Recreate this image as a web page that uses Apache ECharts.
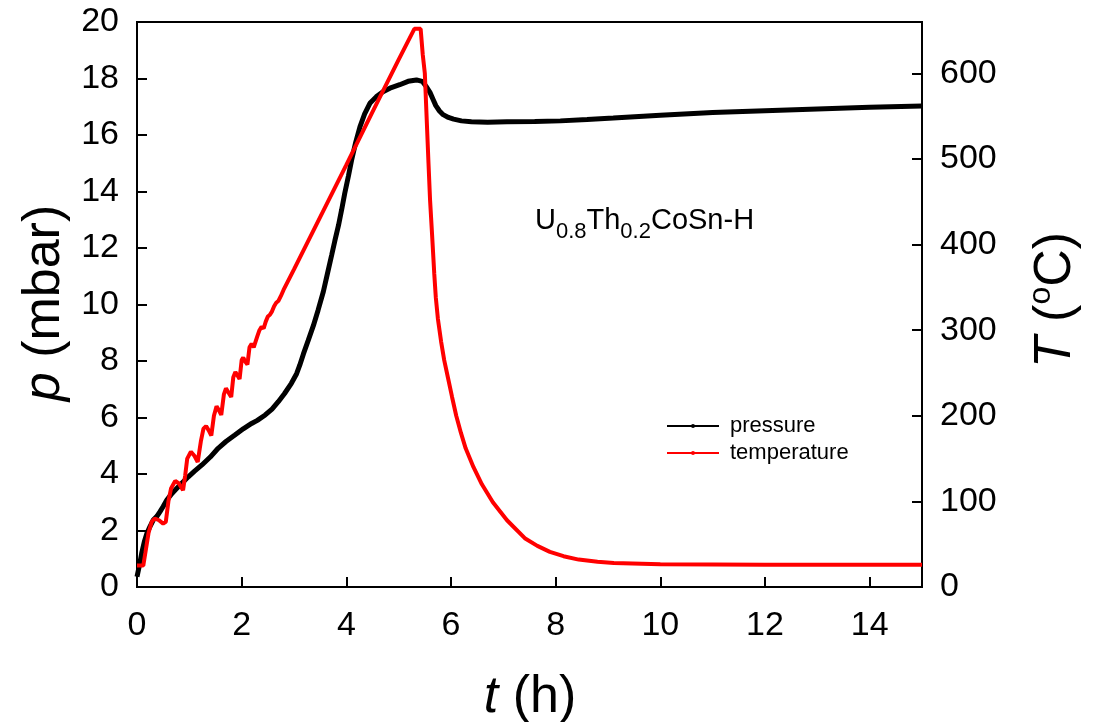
<!DOCTYPE html>
<html>
<head>
<meta charset="utf-8">
<script src="https://cdn.jsdelivr.net/npm/echarts@6/dist/echarts.min.js"></script>
<style>
    html, body { margin: 0; padding: 0; background: #fff; }
    #chart { width: 1093px; height: 722px; }
</style>
</head>
<body>
<div id="chart"></div>
<script>
// pressure (mbar) vs time (h)
var pressureTime = [0, 0.05, 0.09, 0.14, 0.19, 0.25, 0.31, 0.38, 0.44, 0.5, 0.57, 0.65, 0.73, 0.85, 0.98,
    1.1, 1.24, 1.4, 1.55, 1.7, 1.87, 2.03, 2.19, 2.3, 2.45, 2.58, 2.7, 2.82, 2.95, 3.05, 3.11, 3.18,
    3.27, 3.37, 3.46, 3.56, 3.64, 3.72, 3.78, 3.85, 3.91, 3.97, 4.04, 4.1, 4.18, 4.26, 4.35, 4.45,
    4.57, 4.7, 4.86, 5.02, 5.18, 5.34, 5.45, 5.53, 5.6, 5.66, 5.71, 5.78, 5.85, 5.95, 6.05, 6.2,
    6.39, 6.7, 7.07, 7.6, 8.09, 8.6, 9.1, 10, 11, 12, 13, 14, 15];
var pressureValues = [0.36, 0.8, 1.2, 1.6, 1.9, 2.15, 2.37, 2.5, 2.67, 2.85, 3.08, 3.27, 3.43, 3.66, 3.9,
    4.1, 4.32, 4.6, 4.91, 5.15, 5.38, 5.6, 5.79, 5.9, 6.09, 6.3, 6.56, 6.85, 7.21, 7.55, 7.85, 8.25,
    8.72, 9.25, 9.8, 10.45, 11.1, 11.75, 12.25, 12.8, 13.35, 13.94, 14.55, 15.11, 15.75, 16.29, 16.75, 17.12,
    17.35, 17.53, 17.68, 17.78, 17.9, 17.95, 17.9, 17.71, 17.5, 17.25, 17.04, 16.85, 16.72, 16.62, 16.56, 16.5,
    16.47, 16.45, 16.47, 16.48, 16.5, 16.55, 16.6, 16.7, 16.8, 16.86, 16.92, 16.98, 17.03];

// temperature (oC) vs time (h)
var temperatureTime = [0, 0.12, 0.16, 0.22, 0.28, 0.34, 0.42, 0.5, 0.55, 0.6, 0.65, 0.73, 0.8, 0.88,
    0.92, 0.96, 1.03, 1.1, 1.16, 1.22, 1.27, 1.32, 1.37, 1.42, 1.47, 1.52, 1.56, 1.61, 1.66, 1.7,
    1.75, 1.8, 1.84, 1.88, 1.92, 1.96, 2.0, 2.03, 2.07, 2.11, 2.15, 2.19, 2.23, 2.26, 2.3, 2.34,
    2.38, 2.42, 2.46, 2.5, 2.54, 2.58, 2.62, 2.66, 2.7, 2.75, 2.8, 3.0, 3.5, 4.0, 4.5, 5.0, 5.3,
    5.42, 5.46, 5.5, 5.54, 5.57, 5.6, 5.64, 5.68, 5.71, 5.75, 5.81, 5.87, 5.94, 6.02, 6.1, 6.19,
    6.28, 6.43, 6.59, 6.8, 7.07, 7.41, 7.65, 7.89, 8.15, 8.44, 8.8, 9.11, 10, 12, 15];
var temperatureValues = [25, 25, 40, 63, 76, 80, 78, 74, 76, 100, 115, 124, 121, 113,
    130, 150, 158, 153, 146, 170, 185, 188, 183, 177, 200, 211, 207, 201, 225, 232,
    227, 222, 245, 251, 247, 243, 265, 268, 263, 260, 280, 284, 280, 278, 293, 300,
    304, 302, 310, 316, 318, 322, 328, 332, 334, 340, 347, 371, 432, 493, 555, 616, 652,
    652, 622, 600, 540, 495, 452, 410, 366, 338, 313, 287, 265, 245, 222, 200, 180,
    162, 140, 120, 99, 78, 57, 48, 41, 36, 32, 29.5, 28, 26.5, 26, 26];

var timeRange = [0, 15], timeStep = 2;
var pressureRange = [0, 20], pressureStep = 2;
var temperatureRange = [0, 660], temperatureStep = 100;

var fontName = 'Liberation Sans, Arial, sans-serif';

function pairs(xs, ys) {
    return xs.map(function (x, i) { return [x, ys[i]]; });
}

var chartDom = document.getElementById('chart');
var myChart = echarts.init(chartDom);

var axisLineStyle = {color: '#000', width: 2};
var tickLabel = {fontSize: 34, color: '#000', fontFamily: fontName, margin: 18};

option = {
    animation: false,
    backgroundColor: '#fff',
    grid: {
        left: 137, right: 171, top: 22, bottom: 135,
        show: true, borderColor: '#000', borderWidth: 2,
        backgroundColor: 'transparent'
    },
    legend: {
        left: 666, top: 415,
        padding: 0,
        orient: 'vertical',
        itemWidth: 52, itemHeight: 5, itemGap: 5,
        lineStyle: {width: 2},
        textStyle: {fontSize: 22, color: '#000', fontFamily: fontName, padding: [0, 0, 0, 6]},
        data: ['pressure', 'temperature']
    },
    xAxis: {
        type: 'value',
        min: timeRange[0], max: timeRange[1], interval: timeStep,
        axisLine: {lineStyle: axisLineStyle},
        axisTick: {inside: true, length: 10, lineStyle: axisLineStyle},
        axisLabel: Object.assign({}, tickLabel, {margin: 22, showMaxLabel: false}),
        splitLine: {show: false}
    },
    yAxis: [
        {
            type: 'value', position: 'left',
            min: pressureRange[0], max: pressureRange[1], interval: pressureStep,
            axisLine: {show: true, lineStyle: axisLineStyle},
            axisTick: {show: true, inside: true, length: 10, lineStyle: axisLineStyle},
            axisLabel: tickLabel,
            splitLine: {show: false}
        },
        {
            type: 'value', position: 'right',
            min: temperatureRange[0], max: temperatureRange[1], interval: temperatureStep,
            axisLine: {show: true, lineStyle: axisLineStyle},
            axisTick: {show: true, inside: true, length: 10, lineStyle: axisLineStyle},
            axisLabel: Object.assign({}, tickLabel, {showMaxLabel: false}),
            splitLine: {show: false}
        }
    ],
    series: [
        {
            name: 'pressure',
            type: 'line',
            yAxisIndex: 0,
            symbol: 'none',
            color: '#000',
            lineStyle: {color: '#000', width: 5},
            data: pairs(pressureTime, pressureValues)
        },
        {
            name: 'temperature',
            type: 'line',
            yAxisIndex: 1,
            symbol: 'none',
            color: '#ff0000',
            lineStyle: {color: '#ff0000', width: 4},
            data: pairs(temperatureTime, temperatureValues)
        }
    ],
    graphic: [
        {
            type: 'text', x: 45, y: 303, rotation: Math.PI / 2,
            style: {
                text: '{i|p} (mbar)', align: 'center', verticalAlign: 'middle',
                fontSize: 52, fontFamily: fontName, fill: '#000',
                rich: {i: {fontStyle: 'italic', fontSize: 52, fontFamily: fontName}}
            }
        },
        {
            type: 'text', x: 530, y: 698,
            style: {
                text: '{i|t} (h)', align: 'center', verticalAlign: 'middle',
                fontSize: 52, fontFamily: fontName, fill: '#000',
                rich: {i: {fontStyle: 'italic', fontSize: 52, fontFamily: fontName}}
            }
        },
        {
            type: 'text', x: 1056, y: 300, rotation: Math.PI / 2,
            style: {
                text: '{i|T} ({s|o}C)', align: 'center', verticalAlign: 'middle',
                fontSize: 52, fontFamily: fontName, fill: '#000',
                rich: {
                    i: {fontStyle: 'italic', fontSize: 52, fontFamily: fontName},
                    s: {fontSize: 32, fontFamily: fontName, padding: [0, 0, 30, 0]}
                }
            }
        },
        {
            type: 'text', x: 535, y: 221,
            style: {
                text: 'U{s|0.8}Th{s|0.2}CoSn-H', align: 'left', verticalAlign: 'middle',
                fontSize: 29, fontFamily: fontName, fill: '#000',
                rich: {s: {fontSize: 22, fontFamily: fontName, padding: [22, 0, 0, 0]}}
            }
        }
    ]
};

option && myChart.setOption(option);
</script>
</body>
</html>
